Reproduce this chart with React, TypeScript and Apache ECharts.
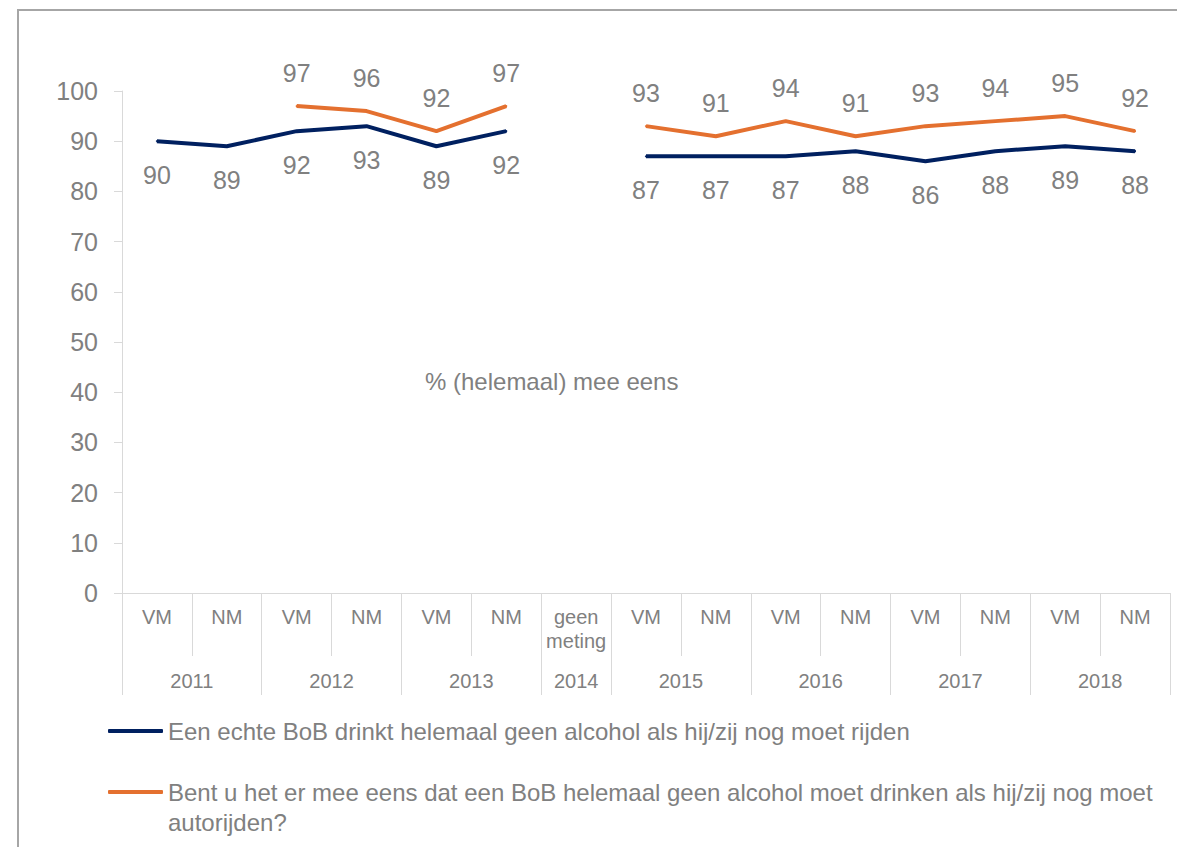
import React, { useEffect, useRef } from 'react';
import * as echarts from 'echarts';

// ---- data ----
const categories = ['VM', 'NM', 'VM', 'NM', 'VM', 'NM', 'geen\nmeting', 'VM', 'NM', 'VM', 'NM', 'VM', 'NM', 'VM', 'NM'];
const years = ['2011', '2012', '2013', '2014', '2015', '2016', '2017', '2018'];
const yearSpans = [2, 2, 2, 1, 2, 2, 2, 2];
const seriesNames = [
  'Een echte BoB drinkt helemaal geen alcohol als hij/zij nog moet rijden',
  'Bent u het er mee eens dat een BoB helemaal geen alcohol moet drinken als hij/zij nog moet autorijden?',
];
const bobValues = [90, 89, 92, 93, 89, 92, null, 87, 87, 87, 88, 86, 88, 89, 88];
const eensValues = [null, null, 97, 96, 92, 97, null, 93, 91, 94, 91, 93, 94, 95, 92];
const yMin = 0;
const yMax = 100;
const yInterval = 10;
const chartTitle = '% (helemaal) mee eens';

const FONT = '"Liberation Sans", Arial, sans-serif';
const GRAY = '#808080';
const AXIS = '#d9d9d9';
const NAVY = '#002060';
const ORANGE = '#E4702F';

export default function App() {
  const ref = useRef<HTMLDivElement>(null);
  useEffect(() => {
    if (!ref.current) return;
    const chart = echarts.init(ref.current, null, { renderer: 'svg' });

    const yearBounds: number[] = [0];
    const yearCenters: number[] = [];
    yearSpans.forEach((s) => {
      const start = yearBounds[yearBounds.length - 1];
      yearCenters.push(start + s / 2);
      yearBounds.push(start + s);
    });
    const total = yearBounds[yearBounds.length - 1];

    const labelCommon = {
      show: true,
      fontSize: 25,
      color: GRAY,
      fontFamily: FONT,
      distance: 20,
    };

    chart.setOption({
      animation: false,
      textStyle: { fontFamily: FONT },
      title: {
        text: chartTitle,
        left: 425,
        top: 369,
        padding: 0,
        textStyle: { fontSize: 24, fontWeight: 'normal', color: GRAY, fontFamily: FONT },
      },
      grid: { left: 122, right: 13, top: 91, bottom: 254, containLabel: false },
      legend: [
        {
          orient: 'vertical',
          left: 108,
          top: 716,
          padding: 0,
          itemWidth: 55,
          itemHeight: 4,
          icon: 'roundRect',
          data: [seriesNames[0]],
          textStyle: { fontSize: 24, color: GRAY, fontFamily: FONT, lineHeight: 30 },
          selectedMode: false,
        },
        {
          orient: 'vertical',
          left: 108,
          top: 747,
          padding: 0,
          itemWidth: 55,
          itemHeight: 4,
          icon: 'roundRect',
          data: [seriesNames[1]],
          formatter: (name: string) => '\n' + name,
          textStyle: {
            fontSize: 24,
            color: GRAY,
            fontFamily: FONT,
            lineHeight: 30,
            width: 1010,
            overflow: 'break',
          },
          selectedMode: false,
        },
      ],
      xAxis: [
        {
          type: 'category',
          data: categories,
          boundaryGap: true,
          position: 'bottom',
          axisLine: { show: true, lineStyle: { color: AXIS, width: 1 } },
          axisTick: { show: true, interval: 0, length: 63, lineStyle: { color: AXIS } },
          axisLabel: { interval: 0, fontSize: 20, color: GRAY, lineHeight: 24, margin: 12, fontFamily: FONT },
          splitLine: { show: false },
        },
        {
          type: 'value',
          min: 0,
          max: total,
          position: 'bottom',
          axisLine: { show: false },
          axisTick: { show: true, length: 102, customValues: yearBounds, lineStyle: { color: AXIS } },
          axisLabel: {
            fontSize: 20,
            color: GRAY,
            lineHeight: 24,
            margin: 76,
            fontFamily: FONT,
            customValues: yearCenters,
            formatter: (v: number) => {
              const i = yearCenters.indexOf(v);
              return i >= 0 ? years[i] : '';
            },
          },
          splitLine: { show: false },
        },
      ],
      yAxis: {
        type: 'value',
        min: yMin,
        max: yMax,
        interval: yInterval,
        axisLine: { show: true, lineStyle: { color: AXIS } },
        axisTick: { show: true, length: 8, lineStyle: { color: AXIS } },
        axisLabel: { fontSize: 25, color: GRAY, margin: 24, fontFamily: FONT },
        splitLine: { show: false },
      },
      series: [
        {
          name: seriesNames[0],
          type: 'line',
          data: bobValues,
          xAxisIndex: 0,
          connectNulls: false,
          symbol: 'circle',
          symbolSize: 2,
          showSymbol: true,
          color: NAVY,
          lineStyle: { width: 4, color: NAVY },
          itemStyle: { color: NAVY },
          label: { ...labelCommon, position: 'bottom' },
        },
        {
          name: seriesNames[1],
          type: 'line',
          data: eensValues,
          xAxisIndex: 0,
          connectNulls: false,
          symbol: 'circle',
          symbolSize: 2,
          showSymbol: true,
          color: ORANGE,
          lineStyle: { width: 4, color: ORANGE },
          itemStyle: { color: ORANGE },
          label: { ...labelCommon, position: 'top' },
        },
      ],
      graphic: [
        {
          type: 'polyline',
          shape: { points: [[18, 900], [18, 10], [1177, 10]] },
          style: { stroke: '#a6a6a6', lineWidth: 2, fill: 'none' },
          silent: true,
        },
      ],
    });
    return () => chart.dispose();
  }, []);
  return <div ref={ref} style={{ position: 'absolute', left: 0, top: 0, width: 1183, height: 847 }} />;
}
